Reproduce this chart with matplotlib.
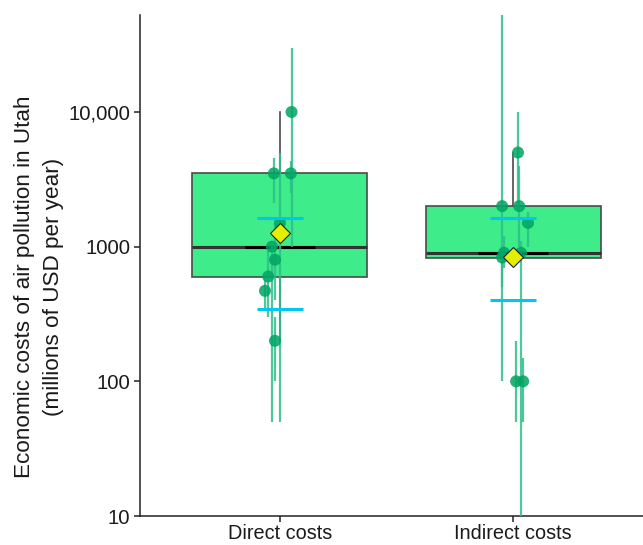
import numpy as np
import matplotlib.pyplot as plt
from matplotlib import cbook

categories = ['Direct costs', 'Indirect costs']

# single estimates with their reported ranges (millions USD per year)
direct_vals = [10000, 3500, 3500, 1500, 1000, 800, 600, 470, 200]
direct_lo = [1000, 2100, 2500, 50, 50, 400, 300, 350, 100]
direct_hi = [30000, 4550, 4300, 5000, 1100, 1480, 930, 600, 300]
direct_jitter = [0.05, -0.026, 0.047, 0.0, -0.034, -0.021, -0.05, -0.064, -0.021]

indirect_vals = [5000, 2000, 2000, 1500, 900, 900, 830, 100, 100]
indirect_lo = [1900, 100, 1000, 1000, 700, 8, 500, 50, 50]
indirect_hi = [10000, 60000, 4000, 1800, 1200, 1100, 1000, 200, 150]
indirect_jitter = [0.021, -0.047, 0.026, 0.064, -0.039, 0.034, -0.047, 0.013, 0.043]

# interval around the geometric mean (cyan bars)
ci_lo = [346, 400]
ci_hi = [1640, 1640]

ytick_vals = [10, 100, 1000, 10000]
ytick_labels = ['10', '100', '1000', '10,000']

plt.rcParams['font.family'] = ['Liberation Sans', 'DejaVu Sans']

fig = plt.figure(figsize=(6.43, 5.45), dpi=100)
ax = fig.add_axes([140 / 643, 1 - 516 / 545, 513 / 643, 501 / 545])

groups = [
    (direct_vals, direct_lo, direct_hi, direct_jitter),
    (indirect_vals, indirect_lo, indirect_hi, indirect_jitter),
]
positions = [1, 2]

# boxplot stats on log scale, like ggplot with scale_y_log10
stats = []
for vals, lo, hi, jit in groups:
    s = cbook.boxplot_stats(np.log10(vals), whis=1.5)[0]
    for k in ['med', 'q1', 'q3', 'whislo', 'whishi', 'mean']:
        s[k] = 10 ** s[k]
    s['fliers'] = []
    stats.append(s)

ax.bxp(stats, positions=positions, widths=0.75, patch_artist=True,
       showfliers=False, showcaps=False,
       boxprops=dict(facecolor='#3EEC8A', edgecolor='#4a4a4a', linewidth=1.2),
       whiskerprops=dict(color='#4a4a4a', linewidth=1.2),
       medianprops=dict(color='#333333', linewidth=2.2),
       zorder=1)

for pos, s in zip(positions, stats):
    ax.hlines(s['med'], pos - 0.15, pos + 0.15, color='black', linewidth=2.2, zorder=2)

for pos, (vals, lo, hi, jit) in zip(positions, groups):
    xs = pos + np.array(jit)
    ax.vlines(xs, lo, hi, color='#2CBF88', alpha=0.85, linewidth=1.6, zorder=3)
    ax.scatter(xs, vals, s=75, color='#00A463', alpha=0.85, edgecolors='none', zorder=4)

for i, pos in enumerate(positions):
    ax.hlines([ci_lo[i], ci_hi[i]], pos - 0.1, pos + 0.1, color='#00C6F2', linewidth=2.2, zorder=5)
    ax.plot(pos, stats[i]['mean'], marker='D', ms=10.5, color='#E2F000',
            markeredgecolor='#222222', markeredgewidth=0.8, zorder=6)

ax.set_yscale('log')
ax.set_ylim(10, 10 ** (4 + 97 / 134.7))
ax.set_xlim(0.4, 2.6)
ax.set_yticks(ytick_vals)
ax.set_yticklabels(ytick_labels)
ax.minorticks_off()
ax.set_xticks(positions)
ax.set_xticklabels(categories)

for side in ['top', 'right']:
    ax.spines[side].set_visible(False)
for side in ['left', 'bottom']:
    ax.spines[side].set_linewidth(1.1)
    ax.spines[side].set_color('#222222')
ax.tick_params(axis='both', length=4, width=1.1, color='#222222',
               labelsize=14.7, labelcolor='#1a1a1a', pad=3)
ax.tick_params(axis='x', pad=1.5, labelsize=14.3)

fig.text(39 / 643, 1 - 287 / 545,
         'Economic costs of air pollution in Utah\n(millions of USD per year)',
         rotation=90, ha='center', va='center', multialignment='center',
         fontsize=16.2, linespacing=1.45, color='#1a1a1a')

fig.savefig('out.png', dpi=100)
